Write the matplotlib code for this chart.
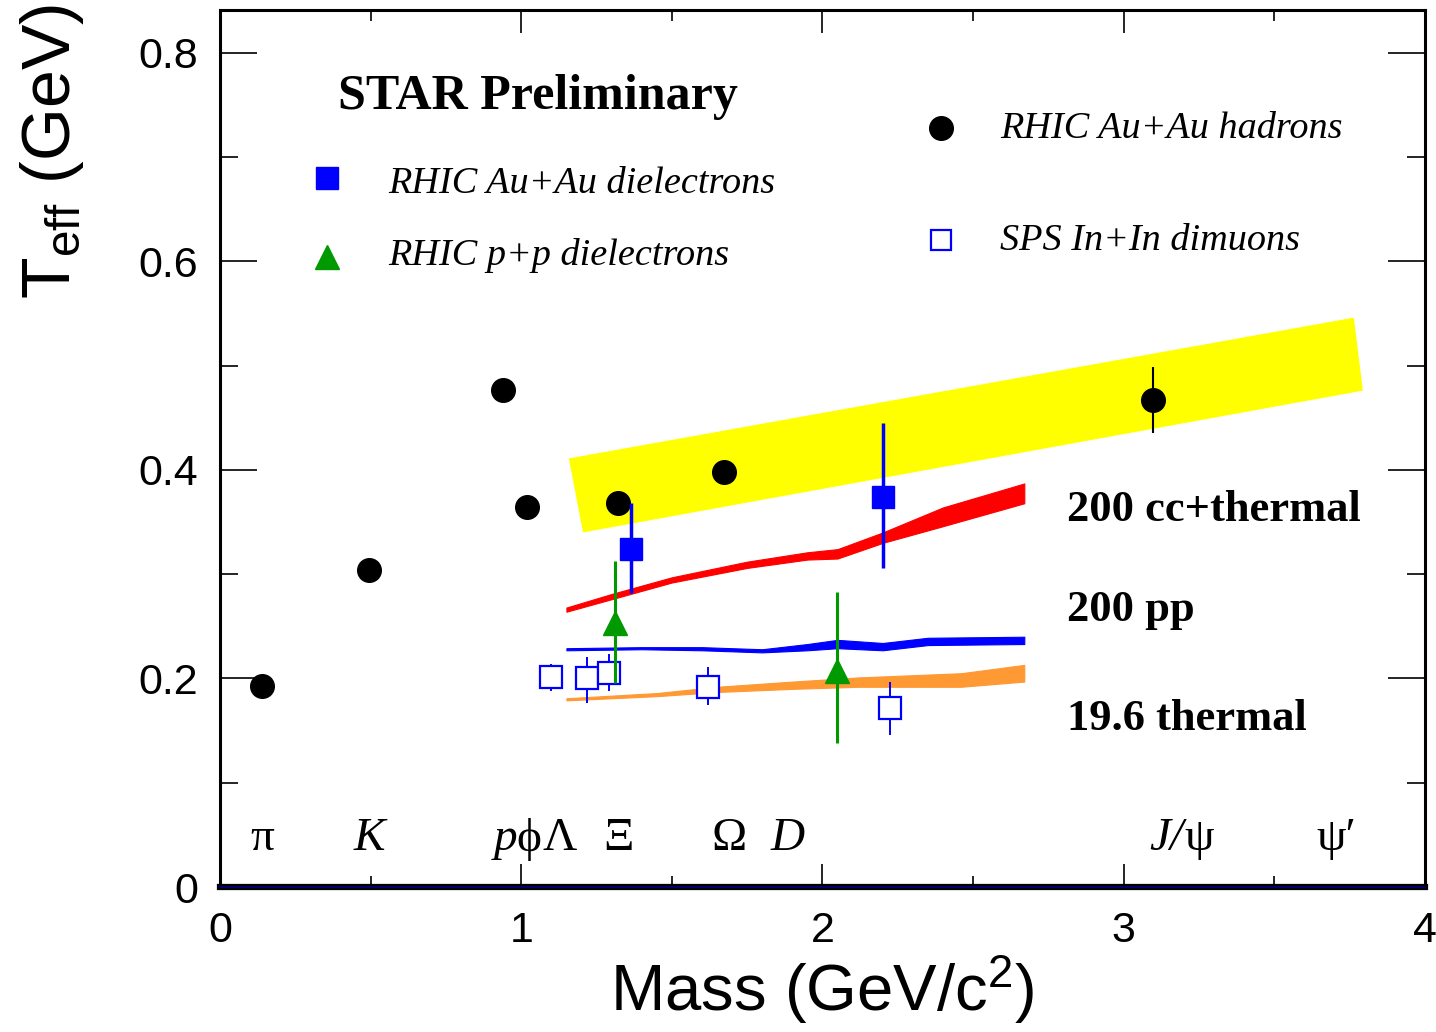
"""Effective temperature vs mass (STAR preliminary) figure."""

import matplotlib

matplotlib.use("Agg")
import matplotlib.pyplot as plt

plt.rcParams["font.family"] = ["Liberation Sans", "DejaVu Sans"]
plt.rcParams["mathtext.fontset"] = "custom"
plt.rcParams["mathtext.rm"] = "Liberation Sans"
plt.rcParams["mathtext.it"] = "Liberation Sans:italic"

SERIF = ["Liberation Serif", "DejaVu Serif"]

# RHIC Au+Au hadrons
had_m = [0.139, 0.494, 0.938, 1.019, 1.321, 1.672, 3.097]
had_t = [0.193, 0.304, 0.477, 0.364, 0.368, 0.398, 0.467]
had_err = [0.0, 0.0, 0.0, 0.0, 0.0, 0.0, 0.032]

# RHIC Au+Au dielectrons
auau_m = [1.364, 2.200]
auau_t = [0.324, 0.374]
auau_lo = [0.042, 0.068]
auau_hi = [0.044, 0.071]

# RHIC p+p dielectrons
pp_m = [1.311, 2.048]
pp_t = [0.253, 0.207]
pp_lo = [0.057, 0.069]
pp_hi = [0.060, 0.076]

# SPS In+In dimuons
sps_m = [1.099, 1.218, 1.291, 1.620, 2.224]
sps_t = [0.201, 0.200, 0.205, 0.192, 0.172]
sps_lo = [0.013, 0.024, 0.017, 0.017, 0.026]
sps_hi = [0.013, 0.021, 0.018, 0.019, 0.025]

# hadron systematics band (polygon corners)
band_x = [1.158, 1.205, 3.794, 3.764]
band_y = [0.411, 0.340, 0.476, 0.546]

# model curves
cc_x = [1.15, 1.30, 1.50, 1.75, 1.95, 2.05, 2.20, 2.40, 2.67]
cc_lo = [0.264, 0.276, 0.292, 0.306, 0.314, 0.315, 0.330, 0.346, 0.368]
cc_hi = [0.268, 0.281, 0.297, 0.312, 0.321, 0.324, 0.340, 0.364, 0.387]

ppm_x = [1.15, 1.40, 1.60, 1.80, 1.95, 2.05, 2.20, 2.35, 2.67]
ppm_lo = [0.227, 0.228, 0.227, 0.225, 0.227, 0.229, 0.227, 0.232, 0.233]
ppm_hi = [0.229, 0.230, 0.230, 0.228, 0.233, 0.237, 0.234, 0.239, 0.240]

th_x = [1.15, 1.45, 1.65, 1.90, 2.12, 2.46, 2.67]
th_lo = [0.179, 0.183, 0.187, 0.190, 0.192, 0.192, 0.197]
th_hi = [0.181, 0.186, 0.192, 0.197, 0.201, 0.205, 0.213]

model_labels = ["200 cc+thermal", "200 pp", "19.6 thermal"]
model_label_y = [0.362, 0.266, 0.161]

# particle names along the bottom
part_names = ["\u03c0", "K", "p", "\u03d5", "\u039b", "\u039e", "\u03a9", "D", "J/", "\u03c8", "\u03c8\u2032"]
part_x = [0.139, 0.495, 0.987, 1.024, 1.129, 1.322, 1.690, 1.885, 3.199, 3.203, 3.706]
part_italic = [False, True, True, False, False, False, False, True, True, False, False]
part_ha = ["center", "center", "right", "center", "center", "center", "center",
           "center", "right", "left", "center"]

fig = plt.figure(figsize=(14.36, 10.32), dpi=100)
ax = fig.add_axes([0.1532, 0.1405, 0.8391, 0.8498])

ax.fill(band_x, band_y, color="#ffff00", lw=0, zorder=1)
ax.fill_between(cc_x, cc_lo, cc_hi, color="#ff0000", lw=0.8, edgecolor="#ff0000", zorder=2)
ax.fill_between(ppm_x, ppm_lo, ppm_hi, color="#0000ff", lw=0.8, edgecolor="#0000ff", zorder=2)
ax.fill_between(th_x, th_lo, th_hi, color="#ff9933", lw=0.8, edgecolor="#ff9933", zorder=2)

ax.errorbar(had_m, had_t, yerr=had_err, fmt="o", color="black", ms=17,
            elinewidth=1.5, capsize=0, zorder=5)
ax.errorbar(auau_m, auau_t, yerr=[auau_lo, auau_hi], fmt="s", color="#0000ff",
            ms=16, elinewidth=2.5, capsize=0, zorder=6)
ax.errorbar(pp_m, pp_t, yerr=[pp_lo, pp_hi], fmt="^", color="#009900",
            ms=17, elinewidth=2.2, capsize=0, zorder=6)
ax.errorbar(sps_m, sps_t, yerr=[sps_lo, sps_hi], fmt="s", color="#0000ff",
            mfc="white", mec="#0000ff", mew=1.6, ms=16, elinewidth=1.4,
            capsize=0, zorder=4)

# legend entries drawn by hand
ax.plot([0.355], [0.680], "s", color="#0000ff", ms=16)
ax.plot([0.355], [0.604], "^", color="#009900", ms=17)
ax.plot([2.393], [0.728], "o", color="black", ms=17)
ax.plot([2.393], [0.620], "s", mfc="white", mec="#0000ff", mew=1.6, ms=14)
leg_kw = dict(family=SERIF, style="italic", fontsize=27.5, va="center", ha="left")
ax.text(0.558, 0.674, "RHIC Au+Au dielectrons", **leg_kw)
ax.text(0.558, 0.606, "RHIC p+p dielectrons", **leg_kw)
ax.text(2.589, 0.727, "RHIC Au+Au hadrons", **leg_kw)
ax.text(2.589, 0.620, "SPS In+In dimuons", **leg_kw)

ax.text(1.055, 0.758, "STAR Preliminary", family=SERIF, weight="bold",
        fontsize=36, ha="center", va="center")

for lab, yy in zip(model_labels, model_label_y):
    ax.text(2.811, yy, lab, family=SERIF, weight="bold", fontsize=32,
            ha="left", va="center")

for name, xx, it, ha in zip(part_names, part_x, part_italic, part_ha):
    ax.text(xx, 0.046, name, family=SERIF, style="italic" if it else "normal",
            fontsize=34, ha=ha, va="center")

ax.set_xlim(0, 4)
ax.set_ylim(0, 0.841)
ax.set_xticks([0, 1, 2, 3, 4])
ax.set_xticks([0.5, 1.5, 2.5, 3.5], minor=True)
ax.set_yticks([0, 0.2, 0.4, 0.6, 0.8])
ax.set_yticklabels(["0", "0.2", "0.4", "0.6", "0.8"])
ax.set_yticks([0.1, 0.3, 0.5, 0.7], minor=True)
ax.tick_params(axis="both", which="both", direction="in", top=True, right=True,
               width=1.2, labelsize=31)
ax.tick_params(axis="x", which="major", length=16.5, pad=17)
ax.tick_params(axis="x", which="minor", length=8)
ax.tick_params(axis="y", which="major", length=26.5, pad=16)
ax.tick_params(axis="y", which="minor", length=13)

for side in ["left", "right", "top"]:
    ax.spines[side].set_linewidth(2.2)
ax.spines["bottom"].set_linewidth(4.5)
ax.axhline(0, color="#000080", lw=1.2, zorder=10, clip_on=False)

ax.set_xlabel("Mass (GeV/c$^2$)", fontsize=47, labelpad=2)
fig.text(52 / 1436, 1 - 152 / 1032, r"T$_{\rm eff}$ (GeV)", fontsize=49,
         rotation=90, ha="center", va="center")

fig.savefig("out.png", dpi=100)
